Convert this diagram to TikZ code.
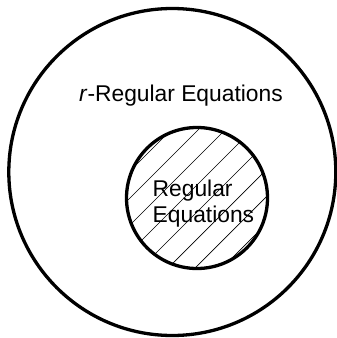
\documentclass[tikz,border=0pt]{standalone}
\usepackage{fontspec}
\setmainfont{Liberation Sans}
\begin{document}
\begin{tikzpicture}[x=1pt,y=-1pt,
  ring/.style={draw=black,line width=3.3pt},
  hatch/.style={draw=black,line width=0.7pt},
  lbl/.style={inner sep=0pt,anchor=base west,font=\fontsize{22.8}{26}\selectfont}]
\useasboundingbox (0,0) rectangle (337,338);
\node[ring,circle,minimum size=327pt,inner sep=0pt] (outer) at (172.3,172) {};
\begin{scope}
  \clip (197,198) circle (70.5);
  \foreach \c in {301,328,...,490} {
    \draw[hatch] (\c-300,300) -- (\c-100,100);
  }
\end{scope}
\node[ring,circle,minimum size=141pt,inner sep=0pt] (inner) at (197,198) {};
\node[lbl] (rreg) at (79,101) {\textit{r}-Regular Equations};
\node[lbl] (reg1) at (152.5,196) {Regular};
\node[lbl] (reg2) at (152.5,222) {Equations};
\end{tikzpicture}
\end{document}
